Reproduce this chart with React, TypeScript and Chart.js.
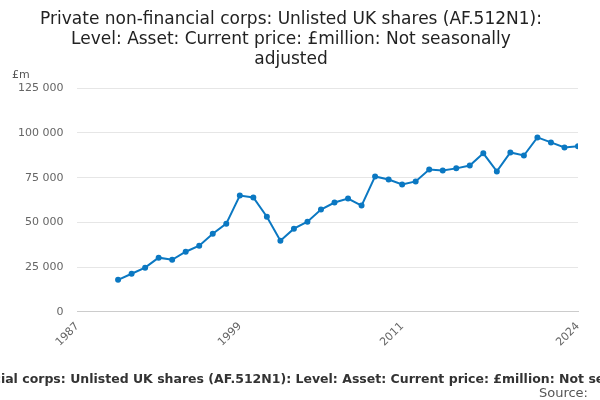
import React, { useEffect, useRef } from "react";
import { Chart, registerables } from "chart.js";
Chart.register(...registerables);

const years = [1990,1991,1992,1993,1994,1995,1996,1997,1998,1999,2000,2001,2002,2003,2004,2005,2006,2007,2008,2009,2010,2011,2012,2013,2014,2015,2016,2017,2018,2019,2020,2021,2022,2023,2024];
const values = [17900,21300,24700,30300,29100,33600,37000,43700,49300,65000,63900,53200,39800,46500,50400,57200,61100,63300,59400,75700,74000,71200,72900,79600,79000,80200,81800,88600,78500,89100,87400,97500,94700,91900,92500];
const xTicks = [1987, 1999, 2011, 2024];
const yTicks = [0, 25000, 50000, 75000, 100000, 125000];
const titleLines = ["Private non-financial corps: Unlisted UK shares (AF.512N1):", "Level: Asset: Current price: £million: Not seasonally", "adjusted"];
const footer = "Private non-financial corps: Unlisted UK shares (AF.512N1): Level: Asset: Current price: £million: Not seasonally adjusted";
const FONT = "'DejaVu Sans', sans-serif";

export default function App() {
  const ref = useRef<HTMLCanvasElement>(null);
  useEffect(() => {
    const extra = {
      id: "extra",
      afterDraw(chart: any) {
        const c = chart.ctx;
        c.save();
        c.fillStyle = "#555";
        c.font = `11px ${FONT}`;
        c.textAlign = "left";
        c.fillText("£m", 12, 78);
        c.fillStyle = "#333";
        c.font = `bold 12.5px ${FONT}`;
        c.textAlign = "center";
        c.fillText(footer, 300, 383);
        c.font = `13px ${FONT}`;
        c.fillStyle = "#555";
        c.textAlign = "right";
        c.fillText("Source:", 588, 397);
        c.restore();
      },
    };
    const chart = new Chart(ref.current!, {
      type: "line",
      data: {
        datasets: [{
          data: years.map((y, i) => ({ x: y, y: values[i] })),
          borderColor: "#0b78c2",
          backgroundColor: "#0b78c2",
          borderWidth: 2,
          pointRadius: 2,
          tension: 0,
        }],
      },
      options: {
        animation: false,
        responsive: false,
        layout: { padding: { left: 4, right: 22, bottom: 48, top: 3 } },
        plugins: {
          legend: { display: false },
          tooltip: { enabled: false },
          title: {
            display: true,
            text: titleLines,
            color: "#222",
            font: { family: FONT, size: 17, weight: "normal", lineHeight: 1.2 },
            padding: { top: 6, bottom: 18 },
          },
        },
        scales: {
          x: {
            type: "linear",
            min: 1987,
            max: 2024,
            afterBuildTicks: (s: any) => { s.ticks = xTicks.map((v) => ({ value: v })); },
            ticks: { color: "#666", font: { family: FONT, size: 11 }, maxRotation: 45, minRotation: 45, callback: (v: any) => String(v) },
            grid: { display: false, drawTicks: true, tickLength: 5 },
            border: { color: "#ccc" },
          },
          y: {
            min: 0,
            max: 125000,
            afterBuildTicks: (s: any) => { s.ticks = yTicks.map((v) => ({ value: v })); },
            ticks: { color: "#666", font: { family: FONT, size: 11 }, padding: 14, callback: (v: any) => Number(v).toLocaleString("en-US").replace(/,/g, " ") },
            grid: { color: "#e6e6e6", drawTicks: false },
            border: { display: false },
          },
        },
      },
      plugins: [extra],
    });
    return () => chart.destroy();
  }, []);
  return (
    <div style={{ position: "fixed", left: 0, top: 0, width: 600, height: 400, background: "#fff" }}>
      <canvas ref={ref} width={600} height={400} />
    </div>
  );
}
